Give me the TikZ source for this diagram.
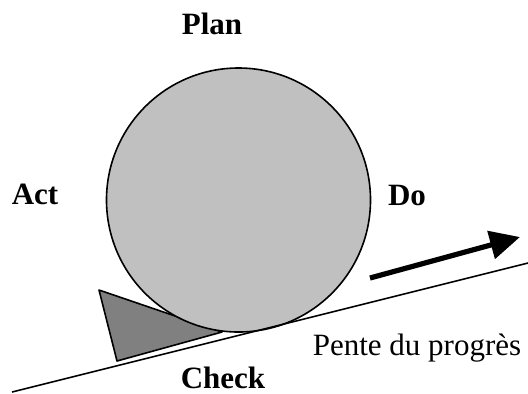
\documentclass[tikz,border=0pt]{standalone}
\usepackage{fontspec}
\setmainfont{Liberation Serif}
\usepackage{tikz}
\usetikzlibrary{arrows.meta}
\definecolor{GrisRoue}{RGB}{192,192,192}
\definecolor{GrisCale}{RGB}{128,128,128}
\tikzset{
  etape/.style={font=\fontsize{15.5}{18}\selectfont\bfseries, anchor=base, inner sep=0pt},
  legende/.style={font=\fontsize{15.5}{18}\selectfont, anchor=base, inner sep=0pt}
}

\begin{document}
\begin{tikzpicture}[x=0.5pt,y=-0.5pt,>={Triangle[length=15pt,width=14pt]}]
  \useasboundingbox (0,0) rectangle (528,393);

  % cale sous la roue
  \filldraw[fill=GrisCale,line width=0.8pt,line join=round]
       (99,290) -- (117,361) -- (222,332) -- cycle;

  % roue PDCA
  \coordinate (O) at (238.5,200);
  \filldraw[fill=GrisRoue,line width=0.8pt] (O) circle (132);

  % pente
  \coordinate (P1) at (12,392);
  \coordinate (P2) at (528,263);
  \draw[line width=0.8pt] (P1) -- (P2);

  % sens du progres
  \coordinate (F1) at (370,278);
  \coordinate (F2) at (520,237);
  \draw[->,line width=2.6pt] (F1) -- (F2);

  \node[etape] (plan) at (212,34) {Plan};
  \node[etape] (act) at (35,204) {Act};
  \node[etape] (do) at (407,205) {Do};
  \node[etape] (check) at (223,388) {Check};
  \node[legende] (pente) at (417,355) {Pente du progrès};
\end{tikzpicture}
\end{document}
